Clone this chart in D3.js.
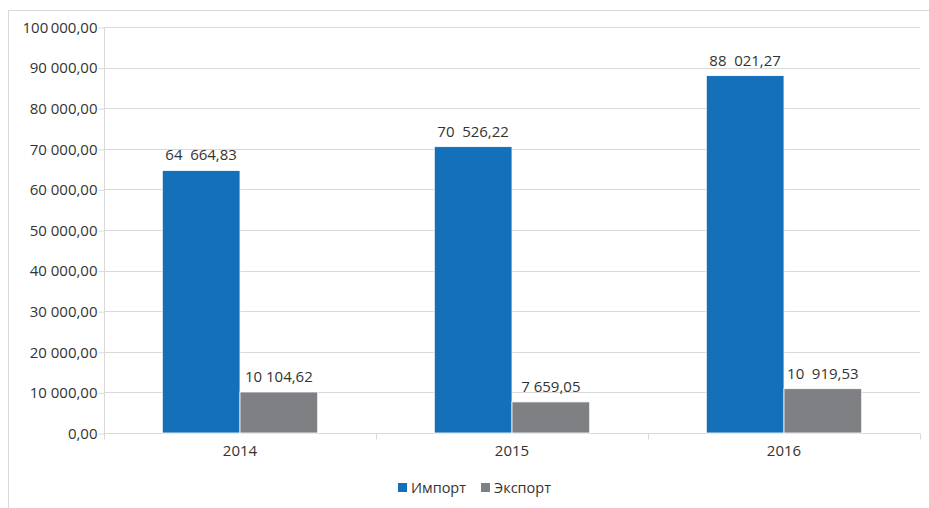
<!DOCTYPE html>
<html>
<head>
<meta charset="utf-8">
<script src="https://cdn.jsdelivr.net/npm/d3@7"></script>
<style>
  body { margin: 0; background: #fff; }
  svg { font-family: "Open Sans", sans-serif; }
</style>
</head>
<body>
<svg width="929" height="508"></svg>
<script>
var years = ["2014", "2015", "2016"];
var seriesNames = ["Импорт", "Экспорт"];
var importValues = [64664.83, 70526.22, 88021.27];
var exportValues = [10104.62, 7659.05, 10919.53];
var yTicks = [0, 10000, 20000, 30000, 40000, 50000, 60000, 70000, 80000, 90000, 100000];
var colors = ["#1570ba", "#7f8084"];

var svg = d3.select("svg");

// outer frame of the chart
svg.append("rect")
  .attr("x", 8.5).attr("y", 10.5)
  .attr("width", 940).attr("height", 520)
  .attr("fill", "none").attr("stroke", "#d9d9d9");

var plotLeft = 104, plotRight = 920, plotTop = 27, plotBottom = 433;

var xScale = d3.scaleBand().domain(years).range([plotLeft, plotRight]);
var yScale = d3.scaleLinear().domain([0, 100000]).range([plotBottom, plotTop]);
var inner = d3.scaleBand().domain(seriesNames)
  .range([0, xScale.bandwidth()]).paddingOuter(0.75);

function fmt(v, sep) {
  var s = v.toFixed(2).split(".");
  var intPart = s[0].replace(/\B(?=(\d{3})+(?!\d))/g, sep);
  return intPart + "," + s[1];
}

// grid lines
svg.append("g").selectAll("line")
  .data(yTicks.slice(1))
  .join("line")
  .attr("x1", plotLeft).attr("x2", plotRight)
  .attr("y1", function (d) { return Math.round(yScale(d)) + 0.5; })
  .attr("y2", function (d) { return Math.round(yScale(d)) + 0.5; })
  .attr("stroke", "#d9d9d9");

// y axis
var yAxis = d3.axisLeft(yScale).tickValues(yTicks).tickSize(6).tickPadding(1)
  .tickFormat(function (d) { return d === 100000 ? fmt(d, "\u2009") : fmt(d, " "); });
var yG = svg.append("g").attr("transform", "translate(" + (plotLeft + 0.5) + ",0.5)").call(yAxis);
yG.selectAll("line, path").attr("stroke", "#d9d9d9");
yG.selectAll("text").attr("font-size", 15).attr("fill", "#333").attr("font-family", "Open Sans, sans-serif");
yG.select("path").attr("d", "M0," + plotTop + "V" + plotBottom);

// x axis
var xAxis = d3.axisBottom(xScale).tickSize(0).tickPadding(12);
var xG = svg.append("g").attr("transform", "translate(0," + (plotBottom + 0.5) + ")").call(xAxis);
xG.select("path").attr("d", "M" + plotLeft + ",0H" + plotRight).attr("stroke", "#d9d9d9");
xG.selectAll("text").attr("font-size", 15).attr("fill", "#333").attr("font-family", "Open Sans, sans-serif");
xG.selectAll(".sep").data(years.concat(["end"]))
  .join("line").attr("class", "sep")
  .attr("x1", function (d, i) { return plotLeft + i * xScale.bandwidth() + 0.5; })
  .attr("x2", function (d, i) { return plotLeft + i * xScale.bandwidth() + 0.5; })
  .attr("y1", 0).attr("y2", 6).attr("stroke", "#d9d9d9");

// bars
var rows = years.map(function (y, i) {
  return { year: y, values: [importValues[i], exportValues[i]] };
});

var groups = svg.append("g").selectAll("g")
  .data(rows).join("g")
  .attr("transform", function (d) { return "translate(" + xScale(d.year) + ",0)"; });

groups.selectAll("rect")
  .data(function (d) { return d.values.map(function (v, j) { return { name: seriesNames[j], v: v, j: j }; }); })
  .join("rect")
  .attr("x", function (d) { return inner(d.name); })
  .attr("width", inner.bandwidth())
  .attr("y", function (d) { return yScale(d.v); })
  .attr("height", function (d) { return plotBottom - yScale(d.v); })
  .attr("fill", function (d) { return colors[d.j]; })
  .attr("stroke", "#fff").attr("stroke-width", 0.8);

// the source puts a wider gap in the import labels and in the last export one
groups.selectAll("text")
  .data(function (d, i) {
    return d.values.map(function (v, j) {
      return { name: seriesNames[j], v: v, wide: j === 0 || i === 2 };
    });
  })
  .join("text")
  .attr("x", function (d) { return inner(d.name) + inner.bandwidth() / 2; })
  .attr("y", function (d) { return yScale(d.v) - 10; })
  .attr("text-anchor", "middle")
  .attr("font-size", 15).attr("fill", "#333")
  .style("white-space", "pre")
  .text(function (d) { return fmt(d.v, d.wide ? "\u00a0\u2005" : "\u00a0"); });

// legend
var legend = svg.append("g").attr("transform", "translate(398,488)");
var lx = [0, 83];
seriesNames.forEach(function (n, i) {
  legend.append("rect").attr("x", lx[i]).attr("y", -5).attr("width", 9).attr("height", 9).attr("fill", colors[i]);
  legend.append("text").attr("x", lx[i] + 13).attr("y", 5)
    .attr("font-size", 14.5).attr("fill", "#333").text(n);
});
</script>
</body>
</html>
